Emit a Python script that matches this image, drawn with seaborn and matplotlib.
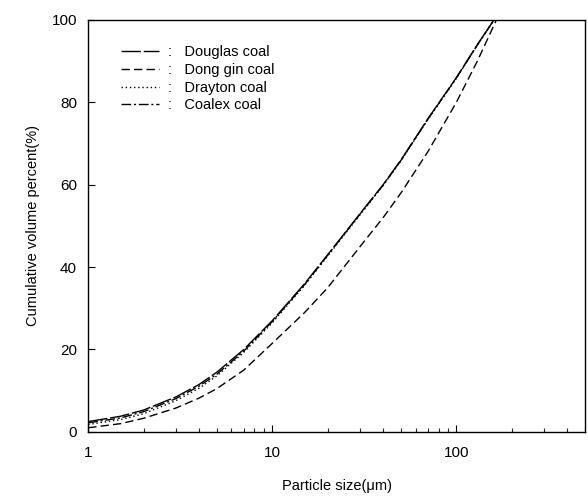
import numpy as np
import pandas as pd
import matplotlib
matplotlib.use("Agg")
import matplotlib.pyplot as plt
import seaborn as sns
from matplotlib.ticker import FixedLocator, NullFormatter, LogLocator
from matplotlib.lines import Line2D

sns.set_theme(style="white")
plt.rcParams['font.family'] = ['Liberation Sans', 'DejaVu Sans']

size = [1, 1.5, 2, 3, 4, 5, 7, 10, 15, 20, 30, 40, 50, 70, 100, 130, 160]
douglas = [2.5, 3.8, 5.3, 8.5, 11.5, 14.5, 20, 27, 36, 43, 53, 60, 66, 76, 86, 94, 100]
drayton = [1.8, 3.0, 4.4, 7.6, 10.6, 13.6, 19.3, 26.5, 35.6, 42.7, 52.7, 59.8, 65.8, 75.8, 85.8, 93.9, 100]
coalex = [2.2, 3.4, 4.9, 8.1, 11.1, 14.0, 19.6, 26.8, 35.8, 42.9, 52.9, 59.9, 65.9, 75.9, 85.9, 93.9, 100]
size_dg = [1, 1.5, 2, 3, 4, 5, 7, 10, 15, 20, 30, 40, 50, 70, 100, 130, 165]
donggin = [1.0, 2.0, 3.3, 5.8, 8.2, 10.5, 15, 21.5, 29, 35, 45, 52, 58, 68, 80, 90, 100]

names = ["Douglas coal", "Dong gin coal", "Drayton coal", "Coalex coal"]
frames = [
    pd.DataFrame({"size": size, "pct": douglas, "coal": names[0]}),
    pd.DataFrame({"size": size_dg, "pct": donggin, "coal": names[1]}),
    pd.DataFrame({"size": size, "pct": drayton, "coal": names[2]}),
    pd.DataFrame({"size": size, "pct": coalex, "coal": names[3]}),
]
df = pd.concat(frames, ignore_index=True)

dashes = {
    names[0]: (14, 2),
    names[1]: (6, 3),
    names[2]: (1, 2),
    names[3]: (7, 2, 1.5, 2),
}

fig = plt.figure(figsize=(5.88, 4.97), dpi=100)
ax = fig.add_axes([0.150, 0.131, 0.845, 0.829])

sns.lineplot(data=df, x="size", y="pct", style="coal", dashes=dashes,
             color="black", linewidth=1.0, ax=ax, legend=False, sort=True)

ax.set_xscale("log")
ax.set_xlim(1, 500)
ax.set_ylim(0, 100)
ax.xaxis.set_major_locator(FixedLocator([1, 10, 100]))
ax.set_xticklabels(["1", "10", "100"])
ax.xaxis.set_minor_locator(LogLocator(base=10, subs=np.arange(2, 10)))
ax.xaxis.set_minor_formatter(NullFormatter())
ax.set_yticks([0, 20, 40, 60, 80, 100])
ax.tick_params(axis="both", which="major", direction="in", length=5, width=0.8,
               labelsize=11, colors="black", pad=8)
ax.tick_params(axis="x", which="minor", direction="in", length=3, width=0.8, bottom=True)
ax.tick_params(axis="x", which="major", bottom=True, pad=10)
ax.tick_params(axis="y", which="major", left=True)

for s in ax.spines.values():
    s.set_color("black")
    s.set_linewidth(1.0)

ax.set_xlabel("Particle size(\u03bcm)", fontsize=10.5, labelpad=14, color="black")
ax.set_ylabel("Cumulative volume percent(%)", fontsize=10.5, labelpad=8, color="black")

handles = [Line2D([], [], color="black", linewidth=1.0, dashes=dashes[n]) for n in names]
leg = ax.legend(handles, [":   " + n for n in names], loc="upper left",
                bbox_to_anchor=(0.04, 0.97), frameon=False, fontsize=10.5,
                handlelength=2.6, labelspacing=0.25, handletextpad=0.6)
for t in leg.get_texts():
    t.set_color("black")

fig.savefig("out.png", dpi=100)
